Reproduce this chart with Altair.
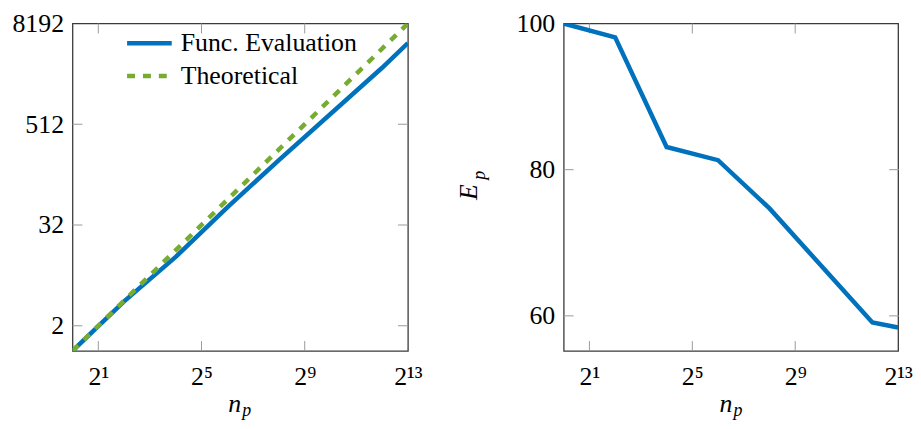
import altair as alt
import pandas as pd

# ---- data ----
np_vals = [1, 4, 16, 64, 256, 4096, 8192]
speedup = [1, 3.92, 13.3, 52.0, 191, 2421, 4784]
theory_np = [1, 8192]
theory_val = [1, 8192]
efficiency = [100, 98.1, 83.1, 81.3, 74.7, 59.1, 58.4]
x_ticks = [2, 32, 512, 8192]
left_y_ticks = [2, 32, 512, 8192]
right_y_ticks = [60, 80, 100]
legend_labels = ["Func. Evaluation", "Theoretical"]

BLUE = "#0072bd"
GREEN = "#77ac30"
TICK = "#9a9a9a"
FRAME = "#3a3a3a"
FONT = "Liberation Serif"
W, H = 338, 330
LW = 4.5

x_label_expr = ("datum.value == 2 ? '2\u00b9' : datum.value == 32 ? '2\u2075' : "
                "datum.value == 512 ? '2\u2079' : '2\u00b9\u00b3'")

X_AXIS = alt.Axis(values=x_ticks, labelExpr=x_label_expr, ticks=False, tickSize=0,
                  domain=False, grid=False, title=None, labelFont=FONT,
                  labelFontSize=26, labelColor="black", labelPadding=13,
                  labelFlush=False, labelOverlap=False)


def y_axis(vals):
    return alt.Axis(values=vals, format="d", ticks=False, tickSize=0, domain=False,
                    grid=False, title=None, labelFont=FONT, labelFontSize=26,
                    labelColor="black", labelPadding=9, labelFlush=False,
                    labelOverlap=False)


xscale = alt.Scale(type="log", base=2, domain=[1, 8192], nice=False)


def tick_layers(yvals, yscale, yaxis, ymax):
    inner_x = pd.DataFrame({"tv": [v for v in x_ticks if v < 8192]})
    inner_y = pd.DataFrame({"tv": [v for v in yvals if v < ymax]})
    base_x = alt.Chart(inner_x).mark_rule(color=TICK, strokeWidth=1)
    base_y = alt.Chart(inner_y).mark_rule(color=TICK, strokeWidth=1)
    xenc = alt.X("tv:Q", scale=xscale, axis=X_AXIS)
    yenc = alt.Y("tv:Q", scale=yscale, axis=yaxis)
    return [
        base_x.encode(x=xenc, y=alt.value(0), y2=alt.value(10)),
        base_x.encode(x=xenc, y=alt.value(H), y2=alt.value(H - 10)),
        base_y.encode(y=yenc, x=alt.value(0), x2=alt.value(10)),
        base_y.encode(y=yenc, x=alt.value(W), x2=alt.value(W - 10)),
    ]


def text_layer(txt, x, y, size, italic=False, angle=0, align="left", baseline="middle"):
    kw = dict(font=FONT, fontSize=size, color="black", align=align, baseline=baseline)
    if italic:
        kw["fontStyle"] = "italic"
    if angle:
        kw["angle"] = angle
    return alt.Chart(pd.DataFrame({"t": [txt]})).mark_text(**kw).encode(
        text="t:N", x=alt.value(x), y=alt.value(y))


def np_title():
    return [
        text_layer("n", W / 2 + 1, H + 62, 26, italic=True, align="right", baseline="alphabetic"),
        text_layer("p", W / 2 + 2, H + 66, 18, italic=True, align="left", baseline="alphabetic"),
    ]


# ---- left panel ----
ly_scale = alt.Scale(type="log", base=2, domain=[1, 8192], nice=False)
LY_AXIS = y_axis(left_y_ticks)
df_s = pd.DataFrame({"np": np_vals, "s": speedup})
df_t = pd.DataFrame({"np": theory_np, "s": theory_val})

func_line = alt.Chart(df_s).mark_line(color=BLUE, strokeWidth=LW, clip=True).encode(
    x=alt.X("np:Q", scale=xscale, axis=X_AXIS),
    y=alt.Y("s:Q", scale=ly_scale, axis=LY_AXIS),
)
theo_line = alt.Chart(df_t).mark_line(color=GREEN, strokeWidth=LW, strokeDash=[8, 8],
                                      clip=True).encode(
    x=alt.X("np:Q", scale=xscale, axis=X_AXIS),
    y=alt.Y("s:Q", scale=ly_scale, axis=LY_AXIS),
)

leg_df = pd.DataFrame({"k": [0]})
leg1 = alt.Chart(leg_df).mark_rule(color=BLUE, strokeWidth=LW).encode(
    x=alt.value(55), x2=alt.value(100), y=alt.value(20))
leg2 = alt.Chart(leg_df).mark_rule(color=GREEN, strokeWidth=LW, strokeDash=[8, 8]).encode(
    x=alt.value(55), x2=alt.value(103), y=alt.value(53))
leg_t1 = text_layer(legend_labels[0], 109, 20, 26)
leg_t2 = text_layer(legend_labels[1], 109, 53, 26)

left = alt.layer(
    *tick_layers(left_y_ticks, ly_scale, LY_AXIS, 8192), func_line, theo_line,
    leg1, leg2, leg_t1, leg_t2, *np_title()
).properties(width=W, height=H)

# ---- right panel ----
ry_scale = alt.Scale(domain=[55.2, 100], nice=False, zero=False)
RY_AXIS = y_axis(right_y_ticks)
df_e = pd.DataFrame({"np": np_vals, "e": efficiency})
eff_line = alt.Chart(df_e).mark_line(color=BLUE, strokeWidth=LW, clip=True).encode(
    x=alt.X("np:Q", scale=xscale, axis=X_AXIS),
    y=alt.Y("e:Q", scale=ry_scale, axis=RY_AXIS),
)
ep_title = [
    text_layer("E", -95, 170, 26, italic=True, angle=270, align="center"),
    text_layer("p", -84, 153, 18, italic=True, angle=270, align="center"),
]
right = alt.layer(
    *tick_layers(right_y_ticks, ry_scale, RY_AXIS, 100), eff_line, *ep_title, *np_title()
).properties(width=337, height=H)

chart = alt.hconcat(left, right, spacing=157, bounds="flush").properties(
    padding={"left": 3, "top": 0, "right": 0, "bottom": 0}
).configure_view(stroke=FRAME, strokeWidth=1.3)

chart.save("out.html", embed_options={"renderer": "svg", "actions": False})
